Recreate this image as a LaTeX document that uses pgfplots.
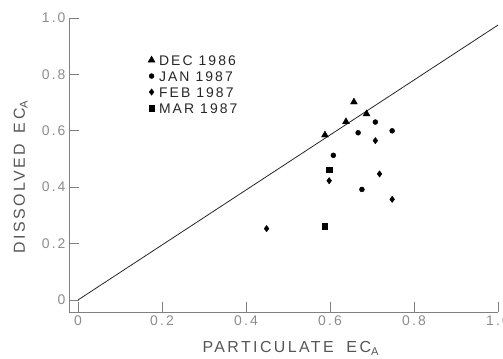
\documentclass[border=0pt]{standalone}
\usepackage{fontspec}
\setmainfont{Liberation Sans}[LetterSpace=15]
\usepackage{pgfplots}
\pgfplotsset{compat=1.18}
\definecolor{axgray}{HTML}{808080}
\definecolor{tkgray}{HTML}{8C8C8C}
\definecolor{lbgray}{HTML}{555555}
\begin{document}
\begin{tikzpicture}
\begin{axis}[
  at={(0,0)}, anchor=south west,
  scale only axis, width=429bp, height=294bp,
  xmin=-0.0214, xmax=1.0, ymin=-0.0426, ymax=1.0,
  axis x line=bottom, axis y line=left,
  axis line style={-, draw=axgray, line width=0.9pt},
  xtick={0,0.2,0.4,0.6,0.8,1}, ytick={0,0.2,0.4,0.6,0.8,1},
  xticklabels={0,0.2,0.4,0.6,0.8,1.0},
  yticklabels={0,0.2,0.4,0.6,0.8,1.0},
  tick align=inside, major tick length=10bp,
  tick style={draw=axgray, line width=0.8pt},
  /pgf/number format/assume math mode=true,
  ticklabel style={font=\fontsize{14}{14}\selectfont, text=tkgray},
  xlabel={PARTICULATE\hspace{6bp} EC\textsubscript{A}},
  ylabel={DISSOLVED\hspace{4bp} EC\textsubscript{A}},
  label style={font=\fontsize{16}{16}\selectfont, text=lbgray},
  xlabel style={at={(axis description cs:0.517,-0.139)}, anchor=base},
  ylabel style={at={(axis description cs:-0.1026,0.46)}, anchor=base, rotate=0},
  legend style={at={(rel axis cs:0.184,0.878)}, anchor=north west,
    draw=none, fill=none, font=\fontsize{14}{14}\selectfont,
    inner sep=0pt, row sep=4bp, column sep=3bp, text=black!85,
    nodes={inner xsep=1pt, inner ysep=1pt, text height=10bp, text depth=0bp}},
  legend cell align=left,
  legend image code/.code={\draw[#1] plot coordinates {(0.1cm,0cm)};},
]
\addplot[forget plot, black!85, line width=0.8pt] coordinates {(0,0) (1.0,0.975)};
\addplot[only marks, mark=triangle*, mark size=4pt, black] coordinates {
  (0.588,0.585) (0.638,0.632) (0.657,0.702) (0.687,0.660)};
\addlegendentry{DEC 1986}
\addplot[only marks, mark=*, mark size=2.5pt, black] coordinates {
  (0.708,0.631) (0.667,0.593) (0.748,0.600) (0.608,0.513) (0.676,0.392)};
\addlegendentry{JAN 1987}
\addplot[only marks, mark=diamond*, mark size=3.2pt, black] coordinates {
  (0.708,0.565) (0.598,0.423) (0.718,0.447) (0.748,0.357) (0.449,0.253)};
\addlegendentry{FEB 1987}
\addplot[only marks, mark=square*, mark size=2.7pt, black] coordinates {
  (0.598,0.463) (0.587,0.262)};
\addlegendentry{MAR 1987}
\end{axis}
\pgfresetboundingbox
\useasboundingbox (-69bp,-47bp) rectangle (434bp,312bp);
\end{tikzpicture}
\end{document}
